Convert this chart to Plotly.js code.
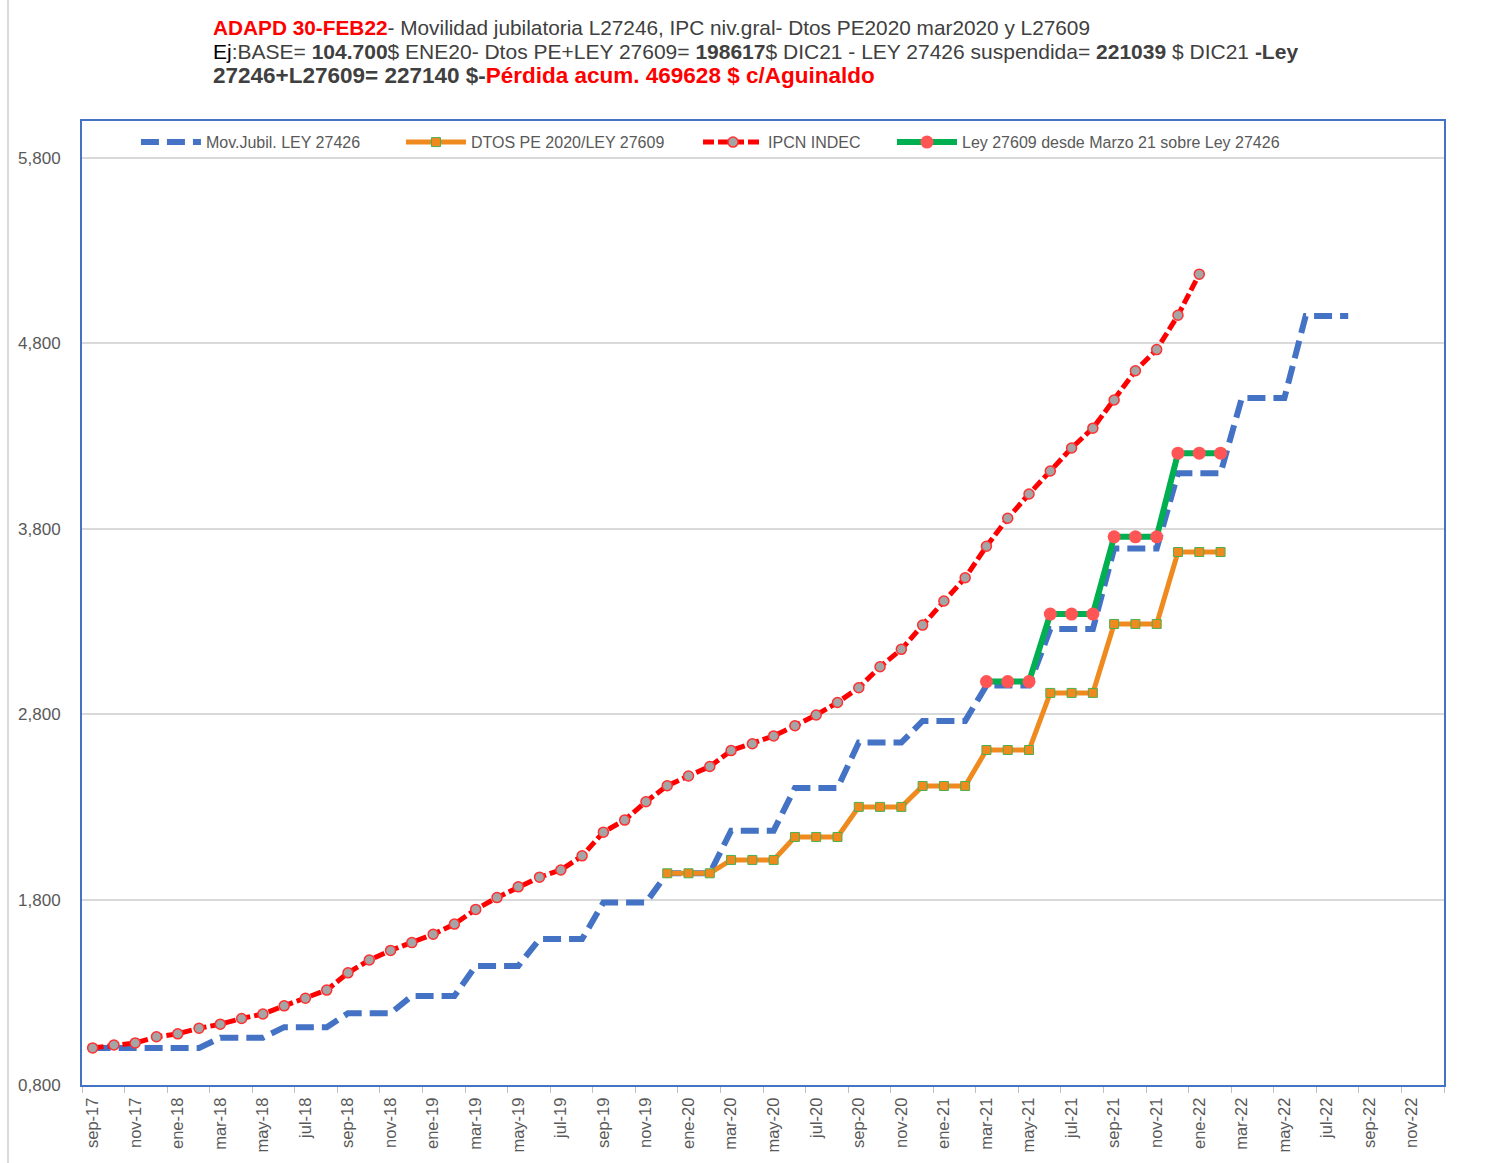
<!DOCTYPE html>
<html>
<head>
<meta charset="utf-8">
<script src="https://cdn.plot.ly/plotly-3.0.1.min.js"></script>
<style>
  html, body { margin: 0; padding: 0; background: #fff; }
  #wrap { position: relative; width: 1512px; height: 1163px; }
  #chart { width: 1512px; height: 1163px; }
  #frame { position: absolute; left: 7px; top: 0; width: 0; height: 1163px; border-left: 2px solid #d9d9d9; pointer-events: none; }
</style>
</head>
<body>
<div id="wrap">
  <div id="chart"></div>
  <div id="frame"></div>
</div>
<script>
// Categories (monthly, sep-17 .. dic-22)
const months = [
  "sep-17","oct-17","nov-17","dic-17","ene-18","feb-18","mar-18","abr-18","may-18","jun-18","jul-18","ago-18",
  "sep-18","oct-18","nov-18","dic-18","ene-19","feb-19","mar-19","abr-19","may-19","jun-19","jul-19","ago-19",
  "sep-19","oct-19","nov-19","dic-19","ene-20","feb-20","mar-20","abr-20","may-20","jun-20","jul-20","ago-20",
  "sep-20","oct-20","nov-20","dic-20","ene-21","feb-21","mar-21","abr-21","may-21","jun-21","jul-21","ago-21",
  "sep-21","oct-21","nov-21","dic-21","ene-22","feb-22","mar-22","abr-22","may-22","jun-22","jul-22","ago-22",
  "sep-22","oct-22","nov-22","dic-22"
];

// Mov.Jubil. LEY 27426
const movJubil = [
  1000,1000,1000,1000,1000,1000,1055,1055,1055,1112,1112,1112,
  1187,1187,1187,1280,1280,1280,1442,1442,1442,1587,1587,1587,
  1784,1784,1784,1942,1942,1942,2172,2172,2172,2402,2402,2402,
  2647,2647,2647,2764,2764,2764,2955,2955,2955,3260,3260,3260,
  3694,3694,3694,4100,4100,4100,4506,4506,4506,4948,4948,4948,
  null,null,null,null
];

// DTOS PE 2020/LEY 27609
const dtosPE = [
  null,null,null,null,null,null,null,null,null,null,null,null,
  null,null,null,null,null,null,null,null,null,null,null,null,
  null,null,null,1942,1942,1942,2014,2014,2014,2138,2138,2138,
  2300,2300,2300,2413,2413,2413,2607,2607,2607,2915,2915,2915,
  3287,3287,3287,3675,3675,3675,null,null,null,null,null,null,
  null,null,null,null
];

// IPCN INDEC
const ipcn = [
  1000,1016,1027,1060,1076,1106,1128,1159,1183,1227,1268,1312,
  1405,1474,1526,1568,1613,1668,1747,1811,1869,1921,1960,2036,
  2164,2229,2328,2414,2467,2518,2604,2641,2683,2738,2796,2863,
  2943,3056,3150,3281,3411,3536,3706,3857,3988,4112,4236,4343,
  4495,4653,4767,4952,5174,null,null,null,null,null,null,null,
  null,null,null,null
];

// Ley 27609 desde Marzo 21 sobre Ley 27426
const ley27609 = [
  null,null,null,null,null,null,null,null,null,null,null,null,
  null,null,null,null,null,null,null,null,null,null,null,null,
  null,null,null,null,null,null,null,null,null,null,null,null,
  null,null,null,null,null,null,2976,2976,2976,3340,3340,3340,
  3757,3757,3757,4208,4208,4208,null,null,null,null,null,null,
  null,null,null,null
];

const seriesNames = ["Mov.Jubil. LEY 27426", "DTOS PE 2020/LEY 27609", "IPCN INDEC", "Ley 27609 desde Marzo 21 sobre Ley 27426"];

const titleLines = [
  "<span style='color:#FF0000'><b>ADAPD 30-FEB22</b></span>- Movilidad jubilatoria L27246, IPC niv.gral- Dtos PE2020 mar2020 y L27609",
  "<span style='color:#000000'>Ej</span>:BASE= <b>104.700</b>$ ENE20- Dtos PE+LEY 27609= <b>198617</b>$ DIC21 - LEY 27426 suspendida= <b>221039</b> $ DIC21 <b>-Ley</b>",
  "<b>27246+L27609= 227140 $-</b><span style='color:#FF0000'><b>Pérdida acum. 469628 $ c/Aguinaldo</b></span>"
];
const titleSizes = [20.8, 21, 22.5];

const traces = [
  {
    x: months, y: movJubil, name: seriesNames[0], type: "scatter", mode: "lines",
    line: { color: "#4472C4", width: 6, dash: "18px,8px" },
    legend: "legend"
  },
  {
    x: months, y: dtosPE, name: seriesNames[1], type: "scatter", mode: "lines+markers",
    line: { color: "#EE8A1E", width: 5 },
    marker: { symbol: "square", size: 9, color: "#EE8A1E", line: { color: "#4CAF50", width: 1 } },
    legend: "legend2"
  },
  {
    x: months, y: ipcn, name: seriesNames[2], type: "scatter", mode: "lines+markers",
    line: { color: "#FF0000", width: 5, dash: "11px,4px" },
    marker: { symbol: "circle", size: 10, color: "#A5A5A5", line: { color: "#FF3030", width: 1.5 } },
    legend: "legend3"
  },
  {
    x: months, y: ley27609, name: seriesNames[3], type: "scatter", mode: "lines+markers",
    line: { color: "#00B050", width: 6 },
    marker: { symbol: "circle", size: 13, color: "#FF5555" },
    legend: "legend4"
  }
];

function legendAt(xp) {
  return {
    orientation: "h",
    x: xp, xanchor: "left",
    y: 0.978, yanchor: "middle",
    font: { size: 16, color: "#595959" },
    bgcolor: "rgba(255,255,255,0)",
    itemwidth: 60
  };
}

const titleY = [1.0965, 1.0716, 1.0467];
const annotations = titleLines.map((t, k) => ({
  text: t,
  xref: "paper", yref: "paper",
  x: 0.0947, xanchor: "left",
  y: titleY[k], yanchor: "middle",
  showarrow: false,
  align: "left",
  font: { family: "Liberation Sans, Arial, sans-serif", size: titleSizes[k], color: "#404040" }
}));

const layout = {
  width: 1512, height: 1163,
  paper_bgcolor: "#ffffff", plot_bgcolor: "#ffffff",
  margin: { l: 82, r: 68, t: 121, b: 78, pad: 0 },
  font: { family: "Liberation Sans, Arial, sans-serif", color: "#595959" },
  annotations: annotations,
  showlegend: true,
  legend: legendAt(0.0396),
  legend2: legendAt(0.2342),
  legend3: legendAt(0.4523),
  legend4: legendAt(0.5947),
  xaxis: {
    type: "category",
    range: [-0.5, 63.5],
    tickmode: "linear", tick0: 0, dtick: 2,
    tickson: "boundaries",
    ticks: "outside", ticklen: 6, tickcolor: "#bfbfbf", tickwidth: 1,
    tickangle: -90,
    ticklabelstandoff: 4,
    tickfont: { size: 16.5, color: "#595959" },
    showgrid: false,
    showline: true, linecolor: "#4472C4", linewidth: 2, mirror: true,
    zeroline: false,
    automargin: false
  },
  yaxis: {
    range: [800, 6000],
    tickmode: "linear", tick0: 800, dtick: 1000,
    tickformat: "04,",
    tickfont: { size: 17, color: "#595959" },
    showgrid: true, gridcolor: "#d9d9d9", gridwidth: 2,
    showline: true, linecolor: "#4472C4", linewidth: 2, mirror: true,
    ticks: "", ticklabelstandoff: 16,
    zeroline: false,
    automargin: false
  }
};

Plotly.newPlot("chart", traces, layout, { displayModeBar: false, staticPlot: true });
</script>
</body>
</html>
